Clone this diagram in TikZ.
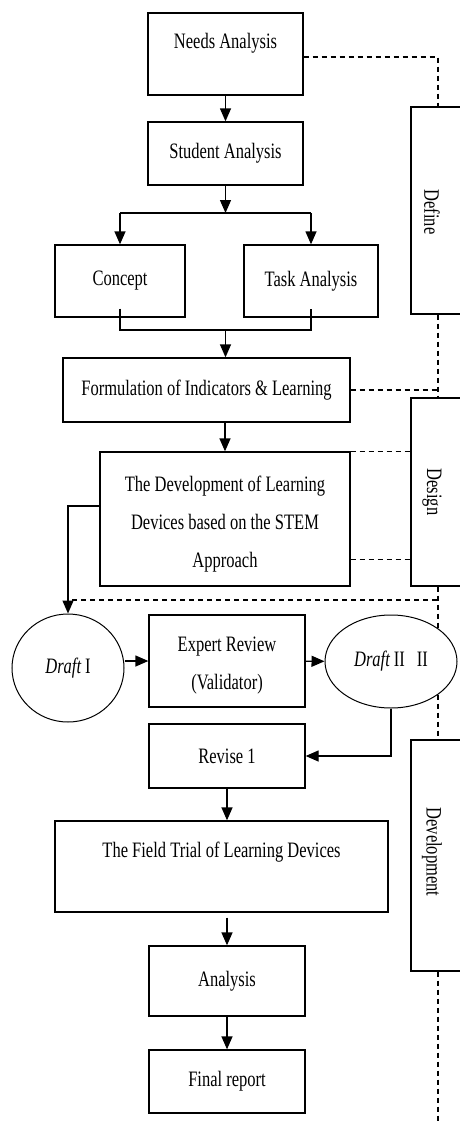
\documentclass[tikz,border=0pt]{standalone}
\usepackage{fontspec}
\setmainfont[FakeStretch=0.75]{Liberation Serif}
\usetikzlibrary{arrows.meta,shapes.geometric}
\pgfdeclarelayer{bg}
\pgfsetlayers{bg,main}
\begin{document}
\begin{tikzpicture}[x=1pt,y=-1pt,
  every node/.style={font=\fontsize{22}{38}\selectfont},
  box/.style={draw, line width=1.3pt, inner sep=0pt, align=center},
  oval/.style={draw, ellipse, line width=1pt, fill=white, inner sep=0pt},
  sidebox/.style={draw, line width=1.3pt, inner sep=0pt, minimum width=54pt},
  lbl/.style={inner sep=0pt, align=center},
  arr/.style={-{Triangle[width=11pt,length=13pt]}, line width=1.3pt},
  conn/.style={line width=1.3pt},
  dline/.style={line width=1.1pt, dash pattern=on 5pt off 4pt}]
\clip (0,0) rectangle (460,1124);

% main boxes
\node[box, minimum width=155pt, minimum height=82pt] (needs) at (225.5,54) {};
\node[lbl] (needsT) at (225.5,43) {Needs Analysis};
\node[box, minimum width=155pt, minimum height=63pt] (student) at (225.5,153.5) {Student Analysis};
\node[box, minimum width=130pt, minimum height=72pt] (concept) at (120,281) {Concept};
\node[box, minimum width=134pt, minimum height=72pt] (task) at (311,281) {Task Analysis};
\node[box, minimum width=287pt, minimum height=64pt] (form) at (206.5,390) {Formulation of Indicators \& Learning};
\node[box, minimum width=250pt, minimum height=134pt] (dev) at (225,519) {};
\node[lbl] (devT) at (225,524) {The Development of Learning\\Devices based on the STEM\\Approach};
\node[oval, minimum width=112pt, minimum height=108pt] (d1) at (68,668) {\textit{Draft}\,I};
\node[box, minimum width=156pt, minimum height=92pt] (expert) at (227,661) {};
\node[lbl] (expertT) at (227,666) {Expert Review\\(Validator)};
\node[oval, minimum width=132pt, minimum height=93pt] (d2) at (391,661.5) {\textit{Draft}\,II\hspace{12pt}II};
\node[box, minimum width=156pt, minimum height=64pt] (revise) at (227,756) {Revise 1};
\node[box, minimum width=333pt, minimum height=91pt] (field) at (221.5,866.5) {};
\node[lbl] (fieldT) at (221.5,852) {The Field Trial of Learning Devices};
\node[box, minimum width=156pt, minimum height=70pt] (analysis) at (227,981) {Analysis};
\node[box, minimum width=156pt, minimum height=63pt] (final) at (227,1081.5) {Final report};

% side boxes
\node[sidebox, minimum height=207pt] (define) at (438,210.5) {};
\node[lbl, rotate=-90] (defineT) at (432,212) {Define};
\node[sidebox, minimum height=188pt] (design) at (438,492) {};
\node[lbl, rotate=-90] (designT) at (432,492) {Design};
\node[sidebox, minimum height=231pt] (devside) at (438,855.5) {};
\node[lbl, rotate=-90] (devsideT) at (432,852) {Development};

% coordinates
\coordinate (split) at (225.5,213);
\coordinate (merge) at (225.5,330);
\coordinate (dstart) at (72,600);
\coordinate (dend) at (438,1124);

% connectors
\draw[arr] (needs) -- (student);
\draw[arr] (student) -- (split);
\draw[conn] (split -| concept.north) -- (split -| task.north);
\draw[arr] (split -| concept.north) -- (concept.north);
\draw[arr] (split -| task.north) -- (task.north);
\draw[conn] ([yshift=9pt]concept.south) |- (merge) -| ([yshift=9pt]task.south);
\draw[arr] (merge) -- (merge |- form.north);
\draw[arr] (form.south -| dev.north) -- (dev.north);
\draw[arr] ([yshift=13pt]dev.west) -| (d1.north);
\draw[arr] (d1.east |- expert.west) -- (expert.west);
\draw[arr] (expert) -- (d2);
\draw[arr] (d2.south) |- (revise.east);
\draw[arr] (revise.south) -- (revise.south |- field.north);
\draw[arr] ([yshift=-5pt]field.south -| analysis.north) -- (analysis.north);
\draw[arr] (analysis) -- (final);

% dashed phase links
\begin{pgfonlayer}{bg}
\draw[dline] ([yshift=-3pt]needs.east) -| (define.north);
\draw[dline] (define.south) -- (design.north);
\draw[dline] (form.east) -- (form.east -| define.south);
\draw[dline] (dev.north east) -- (dev.north east -| design.west);
\draw[dline] ([yshift=27pt]dev.south east) -- ([yshift=27pt]dev.south east -| design.west);
\draw[dline] (dstart) -- (dstart -| design.south);
\draw[dline] (design.south) -- (devside.north);
\draw[dline] (devside.south) -- (dend);
\end{pgfonlayer}
\end{tikzpicture}
\end{document}
